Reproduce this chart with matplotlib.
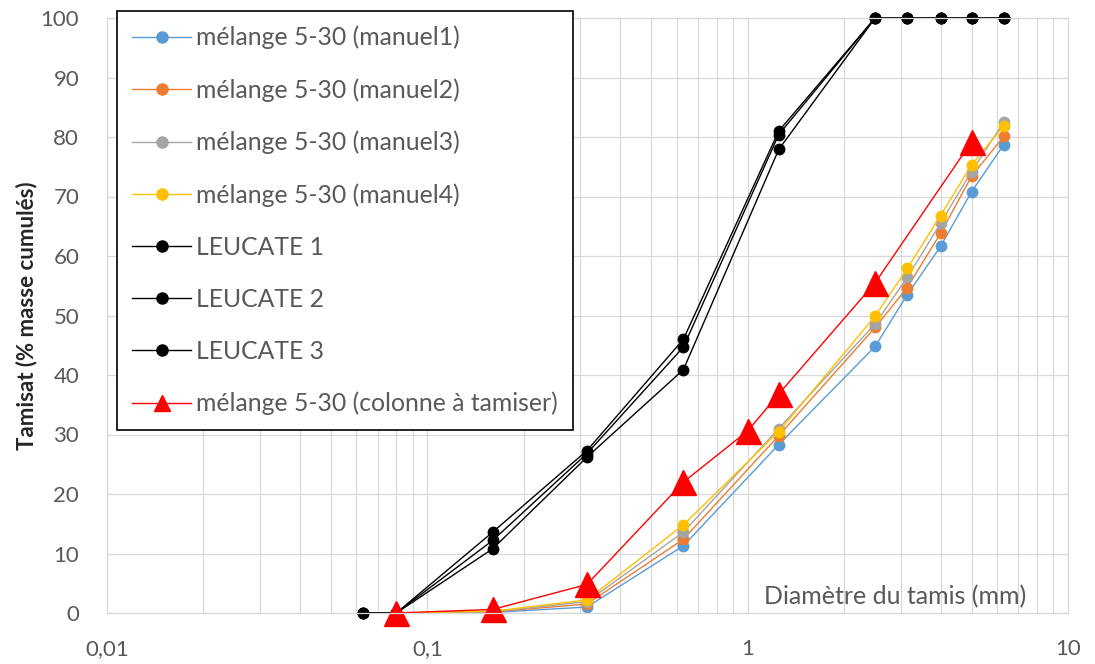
import matplotlib
matplotlib.use("Agg")
import matplotlib.pyplot as plt
from matplotlib.ticker import FixedLocator, FuncFormatter, LogLocator, NullFormatter

# Sieve diameters (mm)
x_leucate = [0.063, 0.08, 0.16, 0.315, 0.63, 1.25, 2.5, 3.15, 4, 5, 6.3]
x_manuel = [0.08, 0.16, 0.315, 0.63, 1.25, 2.5, 3.15, 4, 5, 6.3]
x_colonne = [0.08, 0.16, 0.315, 0.63, 1, 1.25, 2.5, 5]

manuel1 = [0, 0.1, 1.0, 11.3, 28.3, 44.8, 53.5, 61.6, 70.8, 78.7]
manuel2 = [0, 0.2, 1.5, 12.4, 29.8, 48.0, 54.7, 63.8, 73.4, 80.1]
manuel3 = [0, 0.2, 1.9, 13.6, 31.0, 48.6, 56.4, 65.5, 74.2, 82.5]
manuel4 = [0, 0.3, 2.2, 14.8, 30.5, 49.9, 57.9, 66.8, 75.3, 81.9]

leucate1 = [0, 0, 10.8, 26.2, 40.9, 77.9, 100, 100, 100, 100, 100]
leucate2 = [0, 0, 12.2, 26.8, 44.7, 80.4, 100, 100, 100, 100, 100]
leucate3 = [0, 0, 13.6, 27.3, 46.0, 81.0, 100, 100, 100, 100, 100]

colonne = [0, 0.6, 4.8, 22.0, 30.6, 36.8, 55.5, 79.2]

labels = ["mélange 5-30 (manuel1)", "mélange 5-30 (manuel2)",
          "mélange 5-30 (manuel3)", "mélange 5-30 (manuel4)",
          "LEUCATE 1", "LEUCATE 2", "LEUCATE 3",
          "mélange 5-30 (colonne à tamiser)"]

plt.rcParams['font.family'] = ['Lato', 'DejaVu Sans']

fig = plt.figure(figsize=(10.95, 6.64), dpi=100)
ax = fig.add_axes([107/1095, 51/664, (1068-107)/1095, (613-18)/664])

series = [
    (x_manuel, manuel1, '#5b9bd5'),
    (x_manuel, manuel2, '#ed7d31'),
    (x_manuel, manuel3, '#a5a5a5'),
    (x_manuel, manuel4, '#ffc000'),
    (x_leucate, leucate1, '#000000'),
    (x_leucate, leucate2, '#000000'),
    (x_leucate, leucate3, '#000000'),
]
for (xs, ys, c), lab in zip(series, labels[:7]):
    ax.plot(xs, ys, color=c, marker='o', markersize=7.5, linewidth=1.0,
            label=lab, clip_on=False)
ax.plot(x_colonne, colonne, color='#ff0000', marker='^', markersize=18,
        linewidth=1.0, label=labels[7], clip_on=False)

ax.set_xscale('log')
ax.set_xlim(0.01, 10)
ax.set_ylim(0, 100)
ax.set_yticks(range(0, 101, 10))
ax.xaxis.set_major_locator(FixedLocator([0.01, 0.1, 1, 10]))
ax.xaxis.set_major_formatter(FuncFormatter(
    lambda v, p: ('%g' % v).replace('.', ',')))
ax.xaxis.set_minor_locator(LogLocator(base=10, subs=range(2, 10)))
ax.xaxis.set_minor_formatter(NullFormatter())

ax.grid(True, which='both', axis='x', color='#d9d9d9', linewidth=0.9)
ax.grid(True, which='major', axis='y', color='#d9d9d9', linewidth=0.9)
ax.set_axisbelow(True)
for s in ax.spines.values():
    s.set_color('#d9d9d9')
    s.set_linewidth(0.9)

ax.tick_params(axis='both', which='both', length=0, labelsize=16,
               labelcolor='#595959')
ax.tick_params(axis='x', pad=19)
ax.tick_params(axis='y', pad=20)

ax.set_ylabel('Tamisat (% masse cumulés)', fontsize=16, fontweight='bold',
              color='#262626', labelpad=2)
ax.text(0.82, 0.027, 'Diamètre du tamis (mm)', transform=ax.transAxes,
        ha='center', va='center', fontsize=18, color='#595959')

leg = ax.legend(loc='upper left', bbox_to_anchor=(117/1095, 1 - 11/664),
                bbox_transform=fig.transFigure, fontsize=17.8,
                labelspacing=1.17, handlelength=2.4, handletextpad=0.2,
                borderpad=0.6, borderaxespad=0, fancybox=False,
                framealpha=1, edgecolor='#000000')
leg.get_frame().set_linewidth(1.2)
for t in leg.get_texts():
    t.set_color('#595959')
for h in leg.legend_handles[:7]:
    h.set_markersize(8)
leg.legend_handles[7].set_markersize(12)
leg.set_zorder(5)

fig.savefig('out.png', dpi=100)
